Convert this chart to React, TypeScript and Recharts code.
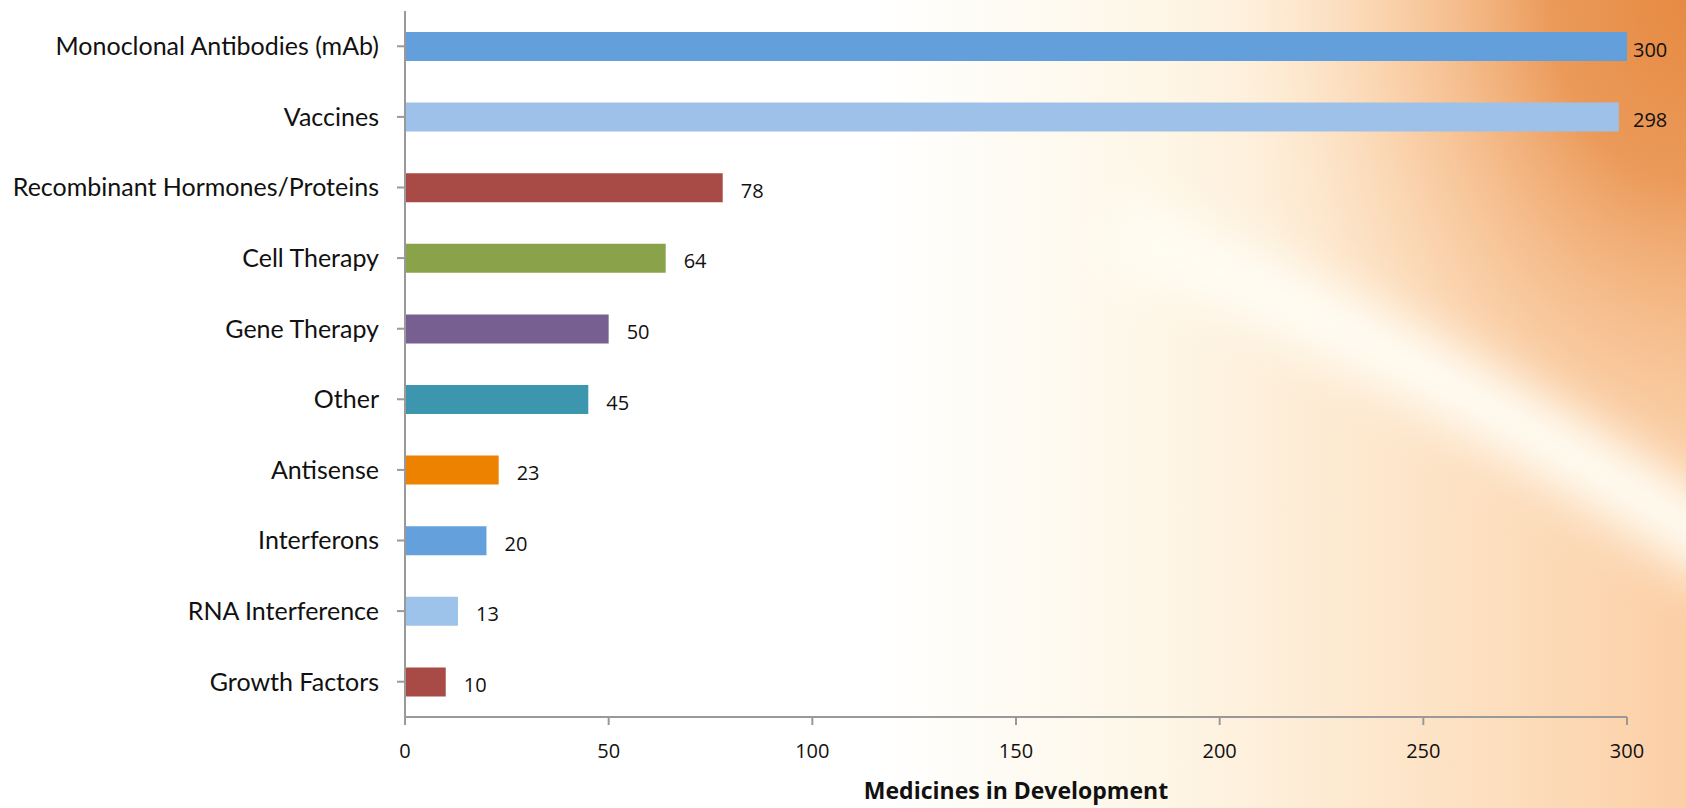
import { BarChart, Bar, XAxis, YAxis, Cell, LabelList } from 'recharts'

const categories = [
	'Monoclonal Antibodies (mAb)',
	'Vaccines',
	'Recombinant Hormones/Proteins',
	'Cell Therapy',
	'Gene Therapy',
	'Other',
	'Antisense',
	'Interferons',
	'RNA Interference',
	'Growth Factors',
]
const medicines = [300, 298, 78, 64, 50, 45, 23, 20, 13, 10]
const barColors = [
	'#639fdb',
	'#9ec1e9',
	'#a84a45',
	'#8aa34a',
	'#775f91',
	'#3c97ae',
	'#ec8200',
	'#63a0dc',
	'#9ec3ea',
	'#a84a45',
]
const xTicks = [0, 50, 100, 150, 200, 250, 300]

const data = categories.map((name, i) => ({ name, value: medicines[i] }))

const W = 1686
const H = 808
const font = '"Open Sans", sans-serif'

const ValueLabel = (props: any) => {
	const { x, y, width, height, value } = props
	const lx = Math.min(x + width + 18, 1633)
	return (
		<text
			x={lx}
			y={y + height / 2 + 10}
			fontSize={20}
			fontFamily={font}
			fill='#111'
		>
			{value}
		</text>
	)
}

// warm backdrop behind the chart
const Backdrop = () => (
	<svg
		width={W}
		height={H}
		style={{ position: 'absolute', left: 0, top: 0 }}
	>
		<defs>
			<linearGradient id='base' x1='0' y1='0' x2='1' y2='0'>
				<stop offset='0' stopColor='#ffffff' />
				<stop offset='0.52' stopColor='#ffffff' />
				<stop offset='0.68' stopColor='#fef7e8' />
				<stop offset='0.86' stopColor='#fde2c4' />
				<stop offset='1' stopColor='#fbcfa6' />
			</linearGradient>
			<radialGradient id='orange' cx='0.5' cy='0.5' r='0.5'>
				<stop offset='0' stopColor='#e68a42' />
				<stop offset='0.3' stopColor='#eb9a5a' />
				<stop offset='0.65' stopColor='#f7c192' stopOpacity='0.6' />
				<stop offset='1' stopColor='#fde2c4' stopOpacity='0' />
			</radialGradient>
			<filter id='blur' x='-20%' y='-50%' width='140%' height='200%'>
				<feGaussianBlur stdDeviation='24' />
			</filter>
		</defs>
		<rect width={W} height={H} fill='url(#base)' />
		<ellipse cx={W} cy={0} rx={450} ry={600} fill='url(#orange)' />
		<path
			d='M 1120 230 Q 1400 340 1740 560'
			stroke='#fffdf4'
			strokeWidth={70}
			fill='none'
			filter='url(#blur)'
		/>
	</svg>
)

const App = () => {
	return (
		<div
			style={{
				position: 'absolute',
				left: 0,
				top: 0,
				width: W,
				height: H,
			}}
		>
			<Backdrop />
			<div style={{ position: 'absolute', left: 0, top: 0 }}>
				<BarChart
					width={W}
					height={H}
					data={data}
					layout='vertical'
					margin={{ top: 11, right: 59, bottom: 0, left: 0 }}
					barSize={29}
				>
					<XAxis
						type='number'
						domain={[0, 300]}
						ticks={xTicks}
						height={91}
						stroke='#999999'
						strokeWidth={2}
						tickSize={8}
						tickMargin={19}
						tick={{ fill: '#111', fontSize: 20, fontFamily: font }}
						label={{
							value: 'Medicines in Development',
							position: 'insideBottom',
							offset: 9,
							fill: '#111',
							fontSize: 23,
							fontWeight: 'bold',
							fontFamily: font,
						}}
					/>
					<YAxis
						type='category'
						dataKey='name'
						width={405}
						stroke='#999999'
						strokeWidth={2}
						tickSize={8}
						tickMargin={18}
						interval={0}
						tick={{ fill: '#111', fontSize: 25, fontFamily: 'Lato, sans-serif' }}
					/>
					<Bar dataKey='value' isAnimationActive={false}>
						{data.map((d, i) => (
							<Cell key={d.name} fill={barColors[i]} />
						))}
						<LabelList dataKey='value' content={ValueLabel} />
					</Bar>
				</BarChart>
			</div>
		</div>
	)
}

export default App
